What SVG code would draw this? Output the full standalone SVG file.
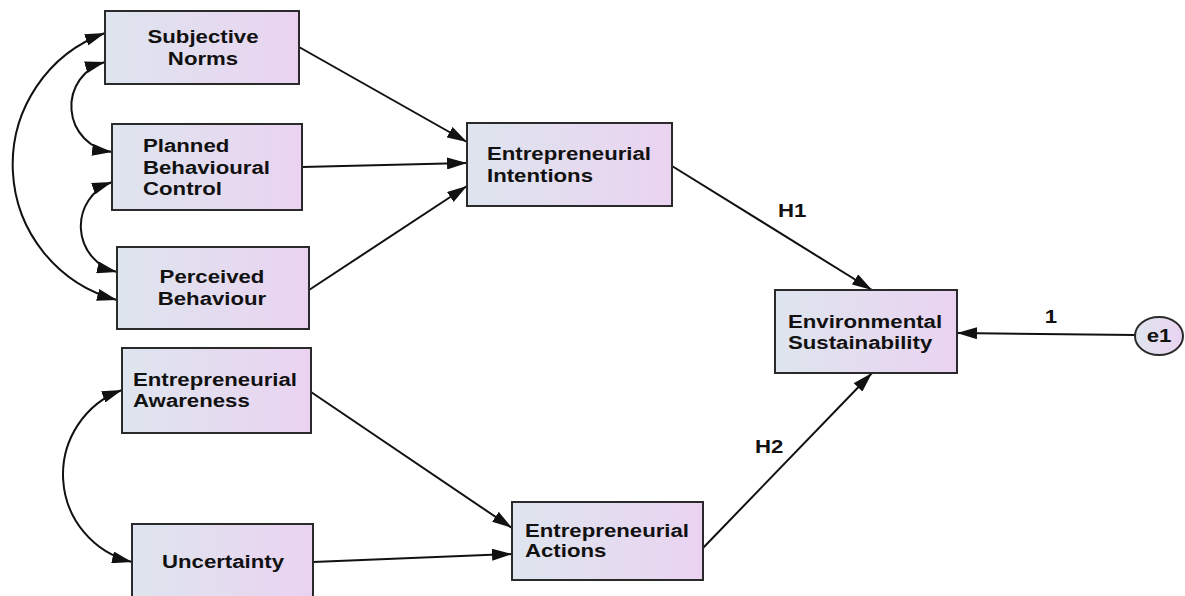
<svg xmlns="http://www.w3.org/2000/svg" width="1185" height="596" viewBox="0 0 1185 596">
<defs>
<linearGradient id="bg" x1="0" y1="0" x2="1" y2="0">
<stop offset="0" stop-color="#dee5ee"/>
<stop offset="1" stop-color="#ead3f1"/>
</linearGradient>
<marker id="ah" markerUnits="userSpaceOnUse" markerWidth="20" markerHeight="12" refX="20" refY="6" orient="auto-start-reverse" viewBox="0 0 20 12">
<path d="M0,0 L20,6 L0,12 z" fill="#111"/>
</marker>
<style>
.box{fill:url(#bg);stroke:#2a2a2a;stroke-width:2}
.t{font-family:"Liberation Sans",Arial,sans-serif;font-weight:bold;font-size:18.5px;fill:#111}
.c{text-anchor:middle}
.ln{fill:none;stroke:#111;stroke-width:2;marker-end:url(#ah)}
.dl{fill:none;stroke:#111;stroke-width:2;marker-start:url(#ah);marker-end:url(#ah)}
</style>
</defs>
<rect width="1185" height="596" fill="#fff"/>
<g id="connectors">
<path class="dl" d="M105,33 A140,140 0 0 0 117,300"/>
<path class="dl" d="M105,62 A46,46 0 0 0 112,152"/>
<path class="dl" d="M112,182 A47,47 0 0 0 117,272"/>
<path class="dl" d="M122,390 A90,90 0 0 0 132,562"/>
<path class="ln" d="M299,47 L467,142"/>
<path class="ln" d="M302,167 L467,163"/>
<path class="ln" d="M309,290 L467,186"/>
<path class="ln" d="M672,166 L872,290"/>
<path class="ln" d="M311,392 L512,528"/>
<path class="ln" d="M313,562 L512,554"/>
<path class="ln" d="M703,548 L872,373"/>
<path class="ln" d="M1135,335 L957,333"/>
<text class="t" transform="translate(778,0) scale(1.2,1)" x="0" y="217">H1</text>
<text class="t" transform="translate(755,0) scale(1.2,1)" x="0" y="453">H2</text>
<text class="t c" transform="translate(1051,0) scale(1.2,1)" x="0" y="323">1</text>
</g>
<g id="subjective-norms">
<rect class="box" x="105" y="11" width="194" height="73"/>
<text class="t c" transform="translate(203,0) scale(1.2,1)"><tspan x="0" y="43">Subjective</tspan><tspan x="0" y="65">Norms</tspan></text>
</g>
<g id="planned-behavioural-control">
<rect class="box" x="112" y="124" width="190" height="86"/>
<text class="t" transform="translate(143,0) scale(1.2,1)"><tspan x="0" y="152">Planned</tspan><tspan x="0" y="174">Behavioural</tspan><tspan x="0" y="195">Control</tspan></text>
</g>
<g id="perceived-behaviour">
<rect class="box" x="117" y="247" width="192" height="82"/>
<text class="t c" transform="translate(212,0) scale(1.2,1)"><tspan x="0" y="283">Perceived</tspan><tspan x="0" y="305">Behaviour</tspan></text>
</g>
<g id="entrepreneurial-awareness">
<rect class="box" x="122" y="348" width="189" height="85"/>
<text class="t" transform="translate(133,0) scale(1.2,1)"><tspan x="0" y="386">Entrepreneurial</tspan><tspan x="0" y="407">Awareness</tspan></text>
</g>
<g id="uncertainty">
<rect class="box" x="132" y="524" width="181" height="80"/>
<text class="t c" transform="translate(223,0) scale(1.2,1)" x="0" y="568">Uncertainty</text>
</g>
<g id="entrepreneurial-intentions">
<rect class="box" x="467" y="123" width="205" height="83"/>
<text class="t" transform="translate(487,0) scale(1.2,1)"><tspan x="0" y="160">Entrepreneurial</tspan><tspan x="0" y="182">Intentions</tspan></text>
</g>
<g id="environmental-sustainability">
<rect class="box" x="775" y="290" width="182" height="83"/>
<text class="t" transform="translate(788,0) scale(1.2,1)"><tspan x="0" y="328">Environmental</tspan><tspan x="0" y="349">Sustainability</tspan></text>
</g>
<g id="entrepreneurial-actions">
<rect class="box" x="512" y="502" width="191" height="78"/>
<text class="t" transform="translate(525,0) scale(1.2,1)"><tspan x="0" y="537">Entrepreneurial</tspan><tspan x="0" y="557">Actions</tspan></text>
</g>
<g id="e1">
<ellipse class="box" cx="1159" cy="336" rx="24" ry="19"/>
<text class="t c" transform="translate(1159,0) scale(1.2,1)" x="0" y="342">e1</text>
</g>
</svg>
